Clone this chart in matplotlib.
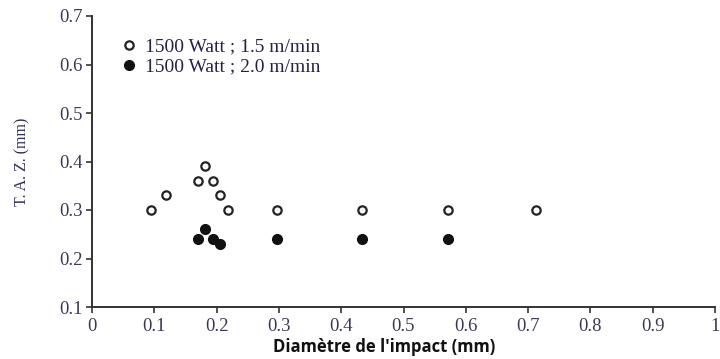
import matplotlib
matplotlib.use("Agg")
import matplotlib.pyplot as plt

# Heat-affected zone vs. impact diameter
diam_15 = [0.095, 0.118, 0.170, 0.182, 0.194, 0.206, 0.219, 0.297, 0.433, 0.571, 0.712]
taz_15 = [0.30, 0.33, 0.36, 0.39, 0.36, 0.33, 0.30, 0.30, 0.30, 0.30, 0.30]

diam_20 = [0.170, 0.182, 0.194, 0.206, 0.297, 0.433, 0.571]
taz_20 = [0.24, 0.26, 0.24, 0.23, 0.24, 0.24, 0.24]

label_15 = "1500 Watt ; 1.5 m/min"
label_20 = "1500 Watt ; 2.0 m/min"

x_ticks = [0, 0.1, 0.2, 0.3, 0.4, 0.5, 0.6, 0.7, 0.8, 0.9, 1.0]
x_tick_labels = ["0", "0.1", "0.2", "0.3", "0.4", "0.5", "0.6", "0.7", "0.8", "0.9", "1"]
y_ticks = [0.1, 0.2, 0.3, 0.4, 0.5, 0.6, 0.7]
y_tick_labels = ["0.1", "0.2", "0.3", "0.4", "0.5", "0.6", "0.7"]

serif = ["Liberation Serif", "DejaVu Serif"]
tick_color = "#3a3a58"

fig = plt.figure(figsize=(7.2, 3.59), dpi=100)
ax = fig.add_axes([92 / 720, 1 - 307 / 359, 623 / 720, 291 / 359])

ax.plot(diam_15, taz_15, linestyle="none", marker="o", markersize=6,
        markerfacecolor="white", markeredgecolor="#222222", markeredgewidth=1.6,
        label=label_15)
ax.plot(diam_20, taz_20, linestyle="none", marker="o", markersize=7,
        markerfacecolor="#111111", markeredgecolor="#111111", label=label_20)

ax.set_xlim(0, 1.0)
ax.set_ylim(0.1, 0.7)
ax.set_xticks(x_ticks)
ax.set_xticklabels(x_tick_labels)
ax.set_yticks(y_ticks)
ax.set_yticklabels(y_tick_labels)

for lbl in ax.get_xticklabels() + ax.get_yticklabels():
    lbl.set_fontfamily(serif)
    lbl.set_fontsize(13.5)
    lbl.set_color(tick_color)

ax.tick_params(axis="both", direction="out", length=4, width=1.2, color="#333333")
ax.tick_params(axis="x", pad=4)
ax.tick_params(axis="y", pad=3)

for side in ("top", "right"):
    ax.spines[side].set_visible(False)
for side in ("left", "bottom"):
    ax.spines[side].set_linewidth(1.4)
    ax.spines[side].set_color("#333333")

ax.set_xlabel("Diamètre de l'impact (mm)", fontfamily=["Open Sans", "DejaVu Sans"],
              fontweight="bold", fontsize=12, color="#111111")
ax.xaxis.set_label_coords(0.469, -0.108)
ax.set_ylabel("T. A. Z. (mm)", fontfamily=serif, fontsize=11.5, color="#2e2e55",
              labelpad=20.5)

leg = ax.legend(loc="upper left", bbox_to_anchor=(0.049, 0.924), frameon=False,
                prop={"family": serif, "size": 14}, handlelength=0.7,
                handletextpad=0.45, labelspacing=0.12, borderaxespad=0,
                borderpad=0)
for txt in leg.get_texts():
    txt.set_color("#2a1f45")

fig.savefig("out.png", dpi=100)
